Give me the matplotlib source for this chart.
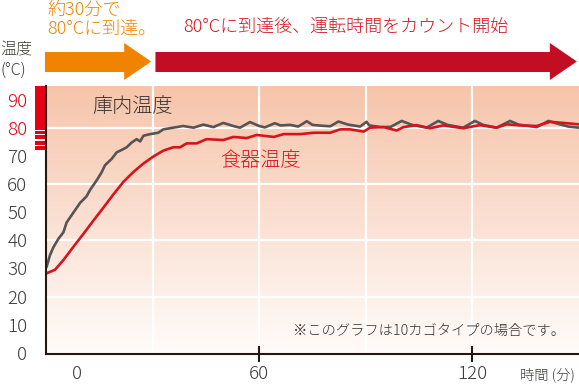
import numpy as np
import matplotlib.pyplot as plt
from matplotlib.patches import Rectangle, Polygon
from matplotlib.transforms import blended_transform_factory

plt.rcParams['font.family'] = ['Noto Sans CJK JP', 'DejaVu Sans']
plt.rcParams['font.weight'] = 'light'

# 庫内温度 (chamber temperature), minutes / °C
chamber_t = [0.2, 1.1, 2.1, 3.5, 4.9, 5.8, 7.7, 9.6, 11.4, 12.4, 14.3, 15.7, 16.6,
             18.5, 19.9, 21.8, 22.7, 24.1, 25.5, 26.5, 27.4, 29.3, 31.6, 33.0, 35.8,
             38.6, 41.5, 44.3, 47.1, 49.9, 52.7, 54.6, 57.4, 60.0, 61.6, 64.4, 66.0,
             68.7, 71.0, 73.4, 75.0, 77.6, 80.0, 82.3, 85.0, 88.4, 90.2, 91.0, 94.5,
             97.0, 100.1, 103.0, 107.1, 110.4, 113.0, 117.4, 120.7, 123.0, 126.8,
             130.6, 133.0, 138.1, 141.4, 144.0, 147.0, 150.0]
chamber_v = [30.7, 34.7, 37.6, 40.6, 42.9, 46.4, 49.9, 53.4, 55.7, 58.0, 61.5, 64.4, 66.8,
             69.1, 71.4, 72.6, 73.2, 74.9, 76.1, 75.3, 77.3, 77.9, 78.4, 79.6, 80.2,
             80.8, 80.2, 81.3, 80.4, 81.9, 80.8, 80.2, 82.2, 80.8, 80.3, 81.8, 81.0,
             81.2, 80.6, 82.5, 81.2, 80.9, 80.7, 82.4, 81.3, 80.6, 82.3, 81.0, 80.4,
             80.5, 82.6, 81.2, 80.2, 82.6, 81.2, 80.2, 82.6, 81.2, 80.2,
             82.6, 81.3, 80.4, 82.6, 81.6, 80.6, 80.2]

# 食器温度 (dish temperature)
dish_t = [0.2, 2.5, 4.9, 7.7, 10.5, 13.3, 16.1, 18.9, 21.8, 24.6, 27.4, 30.2, 33.0,
          35.8, 37.7, 39.6, 42.4, 45.2, 49.9, 52.7, 56.5, 59.3, 64.1, 66.9, 71.6,
          75.3, 80.0, 82.8, 85.6, 89.4, 91.2, 95.0, 98.7, 100.6, 104.3, 108.1,
          111.8, 117.4, 122.1, 126.8, 129.7, 133.4, 138.1, 141.9, 145.6, 149.8]
dish_v = [28.3, 29.5, 33.0, 37.7, 42.3, 47.0, 51.6, 56.3, 60.9, 64.4, 67.4, 69.9, 72.0,
          73.2, 73.2, 74.6, 74.6, 76.1, 75.8, 76.9, 76.5, 77.6, 76.9, 77.9, 77.9,
          78.4, 78.4, 79.6, 79.6, 78.8, 80.2, 80.4, 79.2, 80.4, 81.1, 80.0,
          81.0, 80.0, 81.1, 80.2, 81.4, 81.0, 80.8, 82.3, 81.9, 81.4]

y_ticks = [0, 10, 20, 30, 40, 50, 60, 70, 80, 90]
x_ticks = [60, 120]
x_tick_labels = ['60', '120']
zero_pos = 8.7          # where the reference puts its "0" label
reach_time = 30         # about 30 min to reach 80°C

DARK = '#3e3a39'
RED_TXT = '#d7141e'
RED_LINE = '#d7141e'
GRAY_LINE = '#555555'
ORANGE = '#f08300'
RED_ARROW = '#c30d23'

fig = plt.figure(figsize=(5.79, 3.84), dpi=100)
ax = fig.add_axes([46 / 579, 30 / 384, 533 / 579, 268 / 384])
ax.set_xlim(0, 150)
ax.set_ylim(-0.5, 95.06)

# gradient background
top = np.array([246, 196, 170]) / 255
bot = np.array([255, 252, 250]) / 255
g = np.linspace(0, 1, 256)[:, None]
grad = top[None, :] * (1 - g) + bot[None, :] * g
ax.imshow(grad[:, None, :], extent=[0, 150, -0.5, 95.06], aspect='auto', zorder=0,
          interpolation='bilinear')

for v in [20, 40, 60, 80]:
    ax.axhline(v, color='white', lw=1.6, zorder=1)
for t in [30, 60, 90, 120]:
    ax.axvline(t, color='white', lw=1.6, zorder=1)

ax.plot(chamber_t, chamber_v, color=GRAY_LINE, lw=1.9, zorder=3, solid_joinstyle='round')
ax.plot(dish_t, dish_v, color=RED_LINE, lw=1.9, zorder=4, solid_joinstyle='round')

for s in ['top', 'right']:
    ax.spines[s].set_visible(False)
for s in ['left', 'bottom']:
    ax.spines[s].set_color('#231815')
    ax.spines[s].set_linewidth(1.5)
    ax.spines[s].set_zorder(5)

ax.set_yticks(y_ticks)
ax.tick_params(axis='y', length=0, pad=13.5, labelsize=13.5, labelcolor=DARK)
for lab, v in zip(ax.get_yticklabels(), y_ticks):
    if v >= 80:
        lab.set_color('#e60012')

ax.set_xticks(x_ticks)
ax.set_xticklabels(x_tick_labels)
ax.tick_params(axis='x', which='major', direction='inout', length=12, width=1.5,
               color='#231815', pad=2, labelsize=13.5, labelcolor=DARK)
ax.set_xticks([zero_pos], minor=True)
ax.set_xticklabels(['0'], minor=True)
ax.tick_params(axis='x', which='minor', length=0, pad=8, labelsize=13.5, labelcolor=DARK)

# red striped bar left of the axis
tr = blended_transform_factory(ax.transAxes, ax.transData)
for y0, y1 in [(79.54, 95.06), (77.95, 79.01), (76.19, 77.6), (74.07, 75.49), (72.13, 73.54)]:
    ax.add_patch(Rectangle((-0.0206, y0), 0.0188, y1 - y0, transform=tr,
                           color='#e60012', clip_on=False, lw=0))

# arrows above the plot (x in minutes, y in figure fraction)
ta = blended_transform_factory(ax.transData, fig.transFigure)
def fy(px):
    return 1 - px / 384

def arrow(x0, x1, head, color):
    pts = [(x0, fy(52)), (x1 - head, fy(52)), (x1 - head, fy(43)), (x1, fy(61.5)),
           (x1 - head, fy(80)), (x1 - head, fy(72)), (x0, fy(72))]
    ax.add_patch(Polygon(pts, closed=True, transform=ta, color=color, clip_on=False, lw=0))

arrow(-0.3, reach_time - 0.4, 7.6, ORANGE)
arrow(reach_time + 0.8, 149.4, 7.6, RED_ARROW)

fig.text(47 / 579, fy(10), '約30分で', color=ORANGE, fontsize=13, va='center', ha='left')
fig.text(47 / 579, fy(30), '80°Cに到達。', color=ORANGE, fontsize=13, va='center', ha='left')
fig.text(183 / 579, fy(27), '80°Cに到達後、運転時間をカウント開始', color=RED_TXT,
         fontsize=13, va='center', ha='left')
fig.text(0 / 579, fy(50), '温度', color=DARK, fontsize=11.5, va='center', ha='left')
fig.text(1 / 579, fy(70), '(°C)', color=DARK, fontsize=11.5, va='center', ha='left')
fig.text(92 / 579, fy(106), '庫内温度', color='#333333', fontsize=14.5, va='center', ha='left')
fig.text(220 / 579, fy(161), '食器温度', color=RED_TXT, fontsize=14.5, va='center', ha='left')
fig.text(293 / 579, fy(331), '※このグラフは10カゴタイプの場合です。', color='#333333',
         fontsize=10.3, va='center', ha='left')
fig.text(575 / 579, fy(375), '時間 (分)', color=DARK, fontsize=10.3, va='center', ha='right')

fig.savefig('out.png', dpi=100)
